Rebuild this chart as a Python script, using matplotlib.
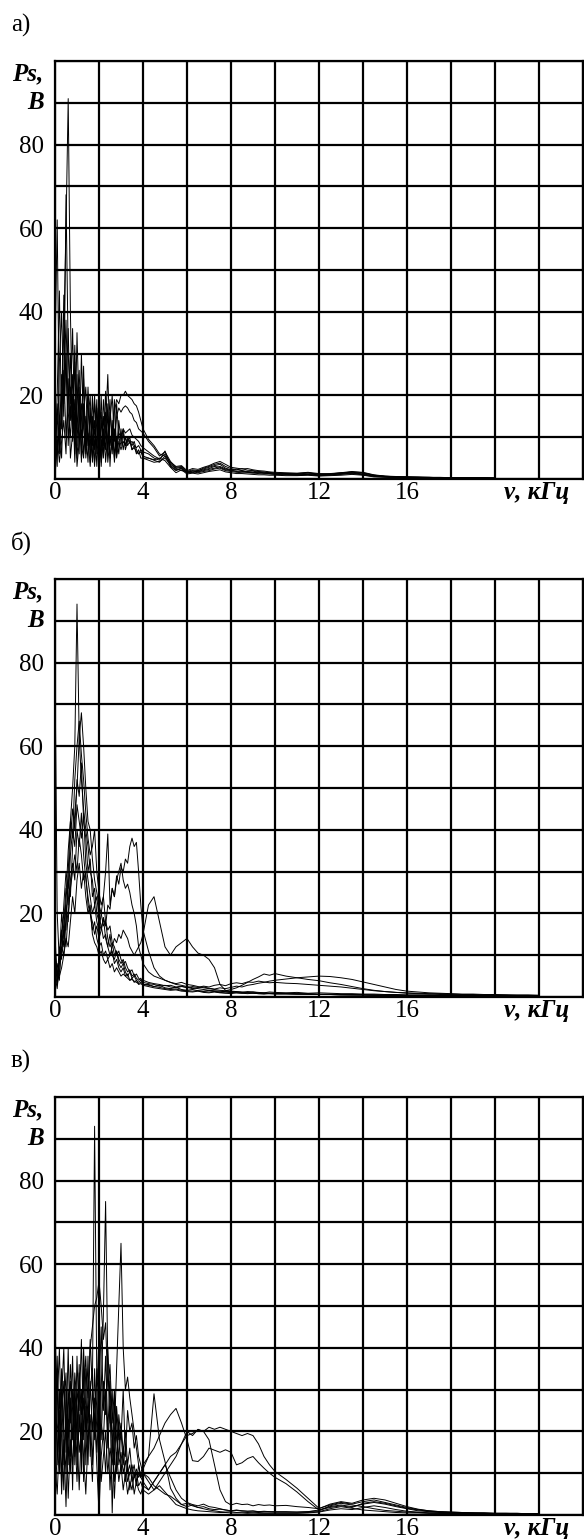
import matplotlib.pyplot as plt

# Frequency grid of the spectra, kHz
freq = [0.0, 0.1, 0.2, 0.3, 0.4, 0.5, 0.6, 0.7, 0.8, 0.9,
        1.0, 1.1, 1.2, 1.3, 1.4, 1.5, 1.6, 1.7, 1.8, 1.9,
        2.0, 2.1, 2.2, 2.3, 2.4, 2.5, 2.6, 2.7, 2.8, 2.9,
        3.0, 3.1, 3.2, 3.3, 3.4, 3.5, 3.6, 3.7, 3.8, 3.9,
        4.0,
        4.25, 4.5, 4.75, 5.0, 5.25, 5.5, 5.75, 6.0, 6.25, 6.5,
        6.75, 7.0, 7.25, 7.5, 7.75, 8.0, 8.25, 8.5, 8.75, 9.0,
        9.25, 9.5, 9.75, 10.0,
        10.5, 11.0, 11.5, 12.0, 12.5, 13.0, 13.5, 14.0, 14.5, 15.0,
        15.5, 16.0, 16.5, 17.0, 17.5, 18.0, 18.5, 19.0, 19.5, 20.0,
        20.5, 21.0, 21.5, 22.0]

# а) spectra Ps, V (up to 20 kHz)
spectra_a = [
    [8, 15, 6, 20, 35, 60, 91, 40, 12, 28,
     8, 22, 5, 18, 9, 20, 4, 15, 7, 19,
     3, 14, 8, 21, 6, 16, 10, 19, 7, 14,
     9, 12, 8, 10, 9, 8, 9, 7, 6, 7,
     5,
     5, 4.5, 4, 5.5, 3, 2, 2.5, 1.5, 2, 1.8,
     2.2, 2.5, 3, 2.8, 2.2, 2, 1.8, 2, 1.6, 1.5,
     1.7, 1.4, 1.3, 1.2,
     1.2, 1.1, 1.2, 1.0, 1.1, 1.3, 1.5, 1.2, 0.8, 0.6,
     0.5, 0.4, 0.4, 0.3, 0.3, 0.3, 0.3, 0.2, 0.3, 0.2],
    [30, 62, 10, 25, 15, 68, 30, 18, 36, 10,
     25, 6, 30, 12, 8, 22, 10, 5, 18, 12,
     6, 20, 5, 13, 25, 8, 12, 5, 18, 10,
     8, 11, 7, 9, 10, 7, 8, 6, 7, 5,
     5,
     4.5, 4, 4.2, 5, 3.5, 2.5, 2, 1.8, 1.5, 2,
     2.4, 2.8, 3.2, 3.5, 2.6, 2.2, 2.4, 2, 1.8, 1.9,
     1.6, 1.5, 1.6, 1.4,
     1.3, 1.2, 1.4, 1.2, 1.3, 1.5, 1.6, 1.4, 0.9, 0.6,
     0.5, 0.5, 0.4, 0.4, 0.3, 0.3, 0.3, 0.3, 0.2, 0.2],
    [5, 20, 45, 12, 44, 20, 36, 14, 25, 6,
     35, 15, 10, 24, 6, 14, 20, 4, 12, 8,
     20, 7, 15, 4, 11, 19, 6, 16, 19, 18,
     20, 20, 21, 20, 19.5, 19, 18, 17.5, 16, 14,
     12,
     9.5, 8, 6, 5.5, 4, 3, 3.2, 2, 2.5, 2.3,
     2.8, 3.2, 3.8, 4.2, 3.5, 2.8, 2.6, 2.4, 2.5, 2.2,
     2, 1.9, 1.7, 1.6,
     1.5, 1.4, 1.6, 1.3, 1.2, 1.4, 1.7, 1.6, 1.0, 0.7,
     0.6, 0.5, 0.5, 0.4, 0.4, 0.3, 0.3, 0.3, 0.3, 0.2],
    [12, 3, 28, 40, 18, 30, 8, 22, 14, 32,
     12, 20, 4, 16, 22, 8, 15, 10, 3, 17,
     9, 5, 19, 11, 7, 14, 20, 9, 15, 17,
     16, 17, 17.5, 17, 16, 15.5, 14, 13.5, 12, 11.5,
     11,
     9, 7.5, 5.5, 6.5, 4.2, 2.8, 3, 1.8, 2.2, 2,
     2.6, 3, 3.5, 3.8, 3, 2.5, 2.2, 2.5, 2.1, 2,
     1.8, 1.7, 1.5, 1.4,
     1.3, 1.3, 1.5, 1.1, 1.2, 1.5, 1.8, 1.5, 0.9, 0.7,
     0.5, 0.5, 0.4, 0.4, 0.3, 0.3, 0.3, 0.3, 0.3, 0.2],
    [2, 18, 8, 14, 26, 10, 18, 30, 9, 16,
     5, 14, 18, 6, 12, 4, 17, 8, 14, 3,
     13, 16, 6, 10, 15, 5, 9, 12, 6, 11,
     10, 12, 11, 11.5, 12, 10.5, 10, 9.5, 9, 8,
     7.5,
     6.5, 5.5, 4.8, 6, 3.8, 2.6, 2.8, 1.6, 1.9, 1.7,
     2, 2.3, 2.6, 3, 2.4, 2.1, 1.9, 1.8, 1.7, 1.6,
     1.5, 1.4, 1.3, 1.2,
     1.1, 1.0, 1.1, 0.9, 1.0, 1.2, 1.4, 1.1, 0.7, 0.5,
     0.4, 0.4, 0.3, 0.3, 0.3, 0.3, 0.2, 0.2, 0.2, 0.2],
    [15, 6, 12, 5, 22, 38, 16, 10, 20, 4,
     18, 26, 8, 5, 15, 10, 3, 12, 20, 6,
     11, 4, 9, 16, 4, 10, 7, 11, 5, 9,
     7, 9, 8, 9.5, 8.5, 9, 8, 7.5, 8, 7,
     6.5,
     6, 5, 4.5, 6.7, 3.2, 2.2, 2.6, 1.4, 1.7, 1.5,
     1.8, 2, 2.4, 2.6, 2, 1.8, 1.6, 1.5, 1.5, 1.4,
     1.3, 1.2, 1.2, 1.1,
     1.0, 0.9, 1.0, 0.8, 0.9, 1.1, 1.3, 1.0, 0.6, 0.5,
     0.4, 0.3, 0.3, 0.3, 0.2, 0.2, 0.2, 0.2, 0.2, 0.2],
    [0, 10, 4, 9, 14, 6, 24, 5, 11, 19,
     3, 9, 14, 27, 5, 11, 7, 20, 4, 9,
     15, 3, 12, 7, 18, 3, 14, 4, 10, 6,
     12, 7, 10, 8, 9, 7, 7.5, 6.5, 6, 6.5,
     5.5,
     5, 4.6, 5, 4.4, 2.8, 1.5, 2.2, 1.2, 1.4, 1.2,
     1.5, 1.8, 2, 2.2, 1.7, 1.5, 1.3, 1.3, 1.2, 1.1,
     1.0, 1.0, 0.9, 0.9,
     0.8, 0.8, 0.9, 0.7, 0.8, 0.9, 1.1, 0.9, 0.5, 0.4,
     0.3, 0.3, 0.3, 0.2, 0.2, 0.2, 0.2, 0.2, 0.2, 0.1],
]

# б) spectra Ps, V
spectra_b = [
    [78, 20, 8, 14, 22, 30, 26, 38, 45, 40,
     52, 48, 56, 42, 38, 30, 33, 24, 26, 20,
     18, 16, 19, 14, 12, 15, 10, 9, 11, 8,
     7, 8, 6, 5, 6, 4.5, 5, 4, 3.5, 4,
     3,
     3, 2.5, 2.8, 2.2, 2, 2.3, 1.8, 1.6, 1.8, 1.5,
     1.4, 1.6, 1.3, 1.2, 1.4, 1.3, 1.2, 1.1, 1.3, 1.2,
     1.1, 1.0, 1.2, 1.1,
     1.0, 1.1, 0.9, 1.0, 0.9, 0.8, 0.8, 0.7, 0.7, 0.6,
     0.6, 0.5, 0.5, 0.5, 0.4, 0.4, 0.4, 0.4, 0.3, 0.3,
     0.3, 0.3, 0.3, 0.3],
    [15, 3, 10, 16, 12, 24, 35, 42, 50, 60,
     94, 62, 52, 45, 40, 36, 30, 28, 22, 24,
     19, 17, 14, 15, 12, 10, 11, 8, 9, 7,
     6, 7, 5, 5.5, 4, 4.5, 3.5, 4, 3, 3.2,
     2.8,
     2.5, 2.2, 2, 1.8, 1.6, 1.7, 1.4, 1.3, 1.2, 1.4,
     1.1, 1.0, 1.2, 1.0, 0.9, 0.8, 1.0, 0.9, 0.8, 0.9,
     0.8, 0.7, 0.8, 0.7,
     0.7, 0.7, 0.6, 0.6, 0.6, 0.5, 0.5, 0.5, 0.4, 0.4,
     0.4, 0.4, 0.3, 0.3, 0.3, 0.3, 0.3, 0.2, 0.2, 0.2,
     0.2, 0.2, 0.2, 0.2],
    [5, 2, 8, 12, 10, 18, 28, 24, 36, 44,
     50, 62, 68, 60, 50, 42, 40, 33, 28, 25,
     22, 20, 17, 18, 14, 12, 13, 10, 11, 9,
     8, 9, 7, 6, 6.5, 5, 5.5, 4.5, 4, 4.5,
     3.5,
     3.2, 3, 2.6, 2.8, 2.4, 2.2, 2.5, 2.3, 2, 2.2,
     2.4, 2.1, 1.9, 2.2, 2.0, 2.3, 2.6, 2.4, 2.8, 3.0,
     3.3, 3.5, 3.8, 4.0,
     4.3, 4.6, 4.8, 5.0, 4.9, 4.6, 4.2, 3.6, 3.0, 2.4,
     1.8, 1.4, 1.2, 1.0, 0.9, 0.8, 0.7, 0.7, 0.6, 0.6,
     0.5, 0.5, 0.5, 0.4],
    [10, 6, 4, 15, 20, 16, 30, 42, 38, 52,
     60, 66, 58, 52, 44, 38, 34, 36, 40, 30,
     25, 22, 24, 18, 16, 17, 13, 12, 10, 11,
     9, 8, 8.5, 7, 6, 6.5, 5, 5.5, 4.5, 4,
     4,
     3.5, 3.2, 3, 2.7, 2.8, 2.4, 2.6, 2.2, 2.5, 2.3,
     2.6, 2.4, 2.8, 3, 2.7, 3.2, 3.4, 3.2, 3.6, 3.5,
     3.8, 3.6, 3.4, 3.5,
     3.3, 3.2, 3.0, 2.8, 2.6, 2.4, 2.1, 1.8, 1.5, 1.3,
     1.1, 1.0, 0.9, 0.8, 0.8, 0.7, 0.6, 0.6, 0.5, 0.5,
     0.5, 0.4, 0.4, 0.4],
    [8, 4, 12, 9, 18, 26, 22, 34, 40, 36,
     46, 42, 38, 44, 32, 28, 24, 20, 22, 18,
     16, 20, 24, 30, 39, 22, 26, 24, 28, 30,
     32, 28, 26, 27, 25, 22, 20, 17, 12, 10,
     8,
     6, 5, 4.5, 4, 3.5, 3.2, 3.5, 3, 2.8, 2.5,
     2.2, 2.0, 1.8, 1.6, 1.5, 1.8, 2.2, 2.8, 3.5, 4.2,
     4.8, 5.5, 5.2, 5.6,
     5.0, 4.6, 4.2, 3.9, 3.4, 3.0, 2.5, 2.0, 1.6, 1.3,
     1.1, 0.9, 0.8, 0.7, 0.6, 0.6, 0.5, 0.5, 0.4, 0.4,
     0.4, 0.3, 0.3, 0.3],
    [12, 5, 9, 20, 14, 22, 18, 28, 32, 28,
     40, 36, 44, 34, 28, 24, 20, 18, 15, 17,
     14, 16, 19, 17, 22, 21, 26, 24, 29, 27,
     31, 30, 33, 32, 36, 38, 36, 37, 30, 22,
     16,
     11, 7, 5, 4, 3.5, 3, 2.8, 2.5, 2.2, 2.0,
     1.8, 1.6, 1.5, 1.4, 1.3, 1.2, 1.2, 1.1, 1.0, 1.0,
     0.9, 0.9, 0.8, 0.8,
     0.8, 0.7, 0.7, 0.6, 0.6, 0.6, 0.5, 0.5, 0.5, 0.4,
     0.4, 0.4, 0.4, 0.3, 0.3, 0.3, 0.3, 0.3, 0.3, 0.2,
     0.2, 0.2, 0.2, 0.2],
    [6, 3, 6, 11, 16, 12, 20, 26, 30, 34,
     30, 38, 34, 28, 30, 22, 20, 16, 18, 14,
     12, 13, 10, 11, 9, 10, 12, 14, 13, 15,
     14, 16, 15, 14, 12, 11, 10, 11, 12, 13,
     15,
     22, 24, 18, 12, 10, 12, 13, 14, 12, 10.5,
     10, 9, 7, 3, 1.6, 1.4, 1.3, 1.2, 1.1, 1.2,
     1.0, 1.0, 0.9, 0.9,
     0.9, 0.8, 0.8, 0.7, 0.7, 0.6, 0.6, 0.5, 0.5, 0.5,
     0.4, 0.4, 0.4, 0.4, 0.3, 0.3, 0.3, 0.3, 0.3, 0.3,
     0.2, 0.2, 0.2, 0.2],
    [3, 8, 5, 7, 10, 14, 12, 18, 24, 20,
     28, 32, 26, 30, 24, 20, 22, 15, 13, 12,
     10, 11, 9, 8, 9, 7, 8, 6, 7, 6,
     5, 5.5, 5, 4.5, 4, 4.2, 3.8, 3.5, 3.2, 3.5,
     3,
     2.8, 2.5, 2.3, 2, 1.8, 1.9, 1.6, 1.5, 1.4, 1.5,
     1.3, 1.2, 1.3, 1.1, 1.0, 1.1, 1.0, 0.9, 1.0, 0.9,
     0.8, 0.8, 0.9, 0.8,
     0.8, 0.7, 0.7, 0.6, 0.6, 0.5, 0.5, 0.5, 0.4, 0.4,
     0.4, 0.3, 0.3, 0.3, 0.3, 0.3, 0.2, 0.2, 0.2, 0.2,
     0.2, 0.2, 0.2, 0.2],
]

# в) spectra Ps, V
spectra_c = [
    [20, 35, 10, 28, 40, 15, 30, 22, 38, 12,
     30, 25, 42, 18, 35, 28, 42, 30, 93, 32,
     30, 45, 25, 38, 20, 32, 15, 28, 10, 24,
     18, 30, 14, 25, 20, 22, 16, 19, 14, 12,
     10,
     9, 7, 6, 5, 4.5, 3.5, 2.5, 2, 2.4, 1.8,
     1.5, 1.2, 1.0, 0.8, 0.7, 0.8, 0.6, 0.7, 0.6, 0.5,
     0.6, 0.5, 0.5, 0.5,
     0.5, 0.5, 0.6, 0.8, 1.5, 2.0, 1.6, 1.2, 1.0, 0.8,
     0.6, 0.5, 0.5, 0.4, 0.4, 0.4, 0.3, 0.3, 0.3, 0.3,
     0.3, 0.3, 0.2, 0.2],
    [40, 12, 30, 8, 25, 34, 12, 28, 6, 32,
     18, 36, 10, 28, 20, 38, 14, 30, 22, 35,
     2, 30, 48, 75, 36, 22, 30, 12, 26, 18,
     22, 15, 20, 12, 16, 10, 12, 8, 10, 9,
     10,
     8, 6, 7, 5.5, 4, 2.5, 2, 1.5, 1.2, 1.0,
     0.9, 0.8, 0.7, 0.6, 0.6, 0.5, 0.5, 0.5, 0.4, 0.5,
     0.4, 0.4, 0.4, 0.4,
     0.4, 0.4, 0.5, 0.7, 1.2, 1.5, 1.3, 1.8, 2.2, 1.8,
     1.3, 0.9, 0.7, 0.5, 0.4, 0.4, 0.3, 0.3, 0.3, 0.3,
     0.2, 0.2, 0.2, 0.2],
    [8, 26, 40, 18, 6, 30, 20, 36, 25, 14,
     38, 20, 30, 8, 26, 16, 32, 20, 28, 15,
     26, 18, 32, 24, 40, 28, 0.5, 20, 35, 50,
     65, 40, 30, 33, 28, 24, 20, 16, 12, 9,
     8,
     6, 8, 10, 12, 9, 6, 4, 3, 2.5, 2.2,
     2.6, 2, 1.8, 1.5, 1.2, 1.0, 1.2, 1.0, 0.9, 1.0,
     0.8, 0.9, 0.8, 0.8,
     0.8, 0.7, 0.8, 1.0, 2.2, 2.8, 2.4, 2.0, 1.5, 1.1,
     0.9, 0.7, 0.6, 0.5, 0.5, 0.4, 0.4, 0.4, 0.3, 0.3,
     0.3, 0.3, 0.3, 0.2],
    [47, 22, 15, 35, 20, 10, 26, 32, 18, 28,
     12, 34, 24, 30, 38, 22, 40, 45, 50, 52,
     56, 50, 42, 46, 30, 36, 22, 30, 18, 14,
     20, 12, 16, 10, 12, 8, 9, 10, 7, 8,
     6,
     5, 6, 8, 10, 12, 14, 17, 20, 19, 20.5,
     20, 18, 12, 6, 3.2, 2.4, 2.8, 2.5, 2.6, 2.2,
     2.5, 2.3, 2.4, 2.2,
     2.3, 2.0, 1.8, 1.5, 2.6, 3.2, 2.8, 3.6, 4.0, 3.6,
     2.8, 2.0, 1.4, 1.0, 0.8, 0.7, 0.6, 0.5, 0.5, 0.4,
     0.4, 0.4, 0.3, 0.3],
    [3, 15, 25, 5, 18, 2, 22, 10, 30, 20,
     8, 24, 15, 36, 12, 26, 18, 8, 24, 12,
     0.5, 14, 20, 10, 22, 6, 18, 4, 15, 8,
     12, 6, 10, 5, 8, 6, 10, 7, 12, 9,
     11,
     14, 29, 18, 12.8, 6.4, 4, 2.5, 2.8, 2.2, 1.8,
     2, 1.5, 1.3, 1.4, 1.2, 1.0, 1.1, 1.0, 0.9, 0.9,
     0.8, 0.8, 0.8, 0.7,
     0.7, 0.7, 0.8, 1.2, 2.0, 2.4, 2.0, 2.6, 3.0, 2.6,
     2.0, 1.5, 1.0, 0.8, 0.6, 0.5, 0.5, 0.4, 0.4, 0.3,
     0.3, 0.3, 0.3, 0.2],
    [12, 5, 18, 30, 12, 24, 4, 18, 12, 26,
     20, 6, 22, 14, 5, 18, 24, 12, 35, 20,
     25, 8, 14, 20, 10, 16, 12, 18, 24, 12,
     15, 10, 13, 8, 10, 12, 9, 11, 9, 10,
     12,
     14, 16, 19, 22, 24, 25.5, 22, 18, 13, 12.8,
     14, 16, 15.5, 15, 15.6, 15, 12, 12.5, 13.5, 14,
     12.5, 11.2, 10, 9,
     7.5, 5.5, 3.2, 1.2, 1.8, 2.2, 1.8, 2.8, 3.2, 2.8,
     2.2, 1.6, 1.2, 0.9, 0.7, 0.6, 0.5, 0.5, 0.4, 0.4,
     0.4, 0.3, 0.3, 0.3],
    [25, 38, 15, 22, 32, 18, 40, 14, 20, 34,
     26, 15, 20, 40, 25, 12, 30, 35, 18, 28,
     44, 22, 18, 30, 16, 26, 20, 8, 14, 22,
     10, 16, 8, 12, 6, 10, 5, 8, 6, 5,
     7,
     6, 8, 10, 12, 14, 15, 17, 19, 19.5, 20.4,
     20, 21, 20.5, 21, 20.5, 20, 19.5, 19, 19.5, 19,
     17, 14, 12, 10.4,
     8.5, 6.4, 4.0, 1.6, 2.4, 3.0, 2.6, 3.2, 3.6, 3.0,
     2.4, 1.8, 1.3, 1.0, 0.8, 0.7, 0.6, 0.5, 0.5, 0.4,
     0.4, 0.4, 0.3, 0.3],
]

panel_names = ['а)', 'б)', 'в)']
x_ticks = [0, 2, 4, 6, 8, 10, 12, 14, 16, 18, 20, 22, 24]
x_labels = ['0', '', '4', '', '8', '', '12', '', '16', '', '', '', '']
y_ticks = [0, 10, 20, 30, 40, 50, 60, 70, 80, 90, 100]
y_labels = ['', '', '20', '', '40', '', '60', '', '80', '', '']

plt.rcParams['font.family'] = ['Liberation Serif', 'DejaVu Serif']

W, H = 584, 1539
fig = plt.figure(figsize=(W / 100, H / 100), dpi=100)

# top edge of each plot box, pixels from the top of the figure
tops = [61, 579, 1097]
box_w, box_h = 528, 418

for name, spectra, top in zip(panel_names, [spectra_a, spectra_b, spectra_c], tops):
    ax = fig.add_axes([55 / W, 1 - (top + box_h) / H, box_w / W, box_h / H])
    for s in spectra:
        ax.plot(freq[:len(s)], s, color='black', lw=0.7, zorder=3)

    ax.set_xlim(0, 24)
    ax.set_ylim(0, 100)
    ax.set_xticks(x_ticks)
    ax.set_xticklabels(x_labels)
    ax.set_yticks(y_ticks)
    ax.set_yticklabels(y_labels)
    ax.tick_params(length=0, labelsize=18)
    ax.tick_params(axis='x', pad=2)
    ax.tick_params(axis='y', pad=8)
    ax.grid(True, color='black', lw=1.6)
    for sp in ax.spines.values():
        sp.set_linewidth(1.6)

    # axis captions
    bi = dict(fontsize=18, fontweight='bold', fontstyle='italic', ha='right', va='center')
    ax.text(-0.022, 97, 'Ps,', transform=ax.get_yaxis_transform(), **bi)
    ax.text(-0.022, 90, 'В', transform=ax.get_yaxis_transform(), **bi)
    ax.text(21.9, -0.004, 'ν, кГц', transform=ax.get_xaxis_transform(),
            fontsize=18, fontweight='bold', fontstyle='italic', ha='center', va='top')

    fig.text(11 / W, 1 - (top - 36) / H, name, fontsize=18, ha='left', va='center')

plt.savefig('out.png', dpi=100)
